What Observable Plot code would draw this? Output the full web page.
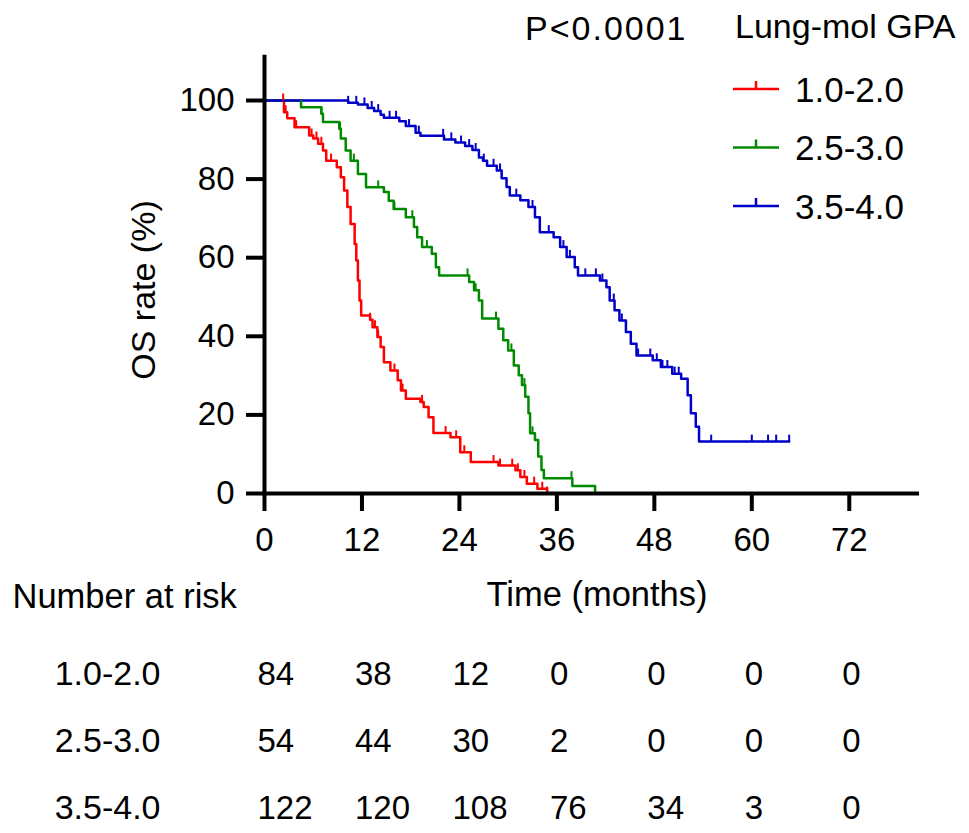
<!DOCTYPE html>
<html>
<head>
<meta charset="utf-8">
<script src="https://cdn.jsdelivr.net/npm/d3@7"></script>
<script src="https://cdn.jsdelivr.net/npm/@observablehq/plot@0.6"></script>
<style>
  body { margin: 0; background: #fff; }
  #chart { position: relative; width: 969px; height: 833px; font-family: "Liberation Sans", Arial, sans-serif; }
  #chart svg { display: block; }
  #overlay { position: absolute; left: 0; top: 0; pointer-events: none; }
</style>
</head>
<body>
<div id="chart"></div>
<script>
// groups and colours
const groups = ["1.0-2.0", "2.5-3.0", "3.5-4.0"];
const colors = ["#ff0000", "#008a00", "#0000c8"];

// Kaplan-Meier steps [time (months), OS rate (%)]
const km1 = [[0,100],[2.4,97.0],[2.8,95.5],[3.7,93.2],[5.5,91.1],[6.0,90.3],[6.6,89.0],[7.2,87.3],[7.6,84.7],
  [8.9,83.0],[9.4,80.5],[9.8,77.1],[10.2,72.9],[10.6,68.6],[11.1,63.5],[11.3,59.3],[11.5,54.2],[11.7,49.1],
  [11.9,45.3],[13.0,44.2],[13.3,42.3],[13.9,39.8],[14.3,37.3],[14.7,33.4],[15.5,31.3],[16.4,28.8],[16.8,26.2],
  [17.4,24.1],[19.2,23.3],[19.6,22.0],[20.2,19.4],[20.8,15.4],[22.9,14.3],[24.1,10.5],[25.4,8.0],[28.8,7.1],
  [30.9,5.9],[31.5,4.2],[32.3,2.5],[33.6,1.2],[34.8,0]];
const km2 = [[0,100],[4.5,98.3],[7.0,96.6],[7.2,94.5],[9.2,92.8],[9.4,90.3],[10.0,87.3],[10.6,84.7],[11.5,81.3],
  [12.5,77.9],[14.7,76.7],[15.3,74.5],[15.9,72.4],[17.4,70.3],[18.4,67.8],[18.8,65.2],[19.4,62.7],[20.6,61.0],
  [21.1,57.6],[21.5,55.5],[25.2,53.8],[25.8,51.7],[26.4,49.1],[26.8,44.5],[28.8,41.9],[29.4,39.0],[30.0,36.4],
  [30.7,32.6],[31.3,30.1],[31.7,27.6],[32.1,24.6],[32.5,20.4],[32.7,15.3],[33.3,13.6],[33.7,9.4],[34.1,6.0],
  [34.4,3.9],[37.9,1.9],[40.7,0]];
const km3 = [[0,100],[10.3,99.4],[11.5,99.0],[12.7,98.1],[13.5,97.3],[14.3,96.4],[14.7,95.6],[16.6,94.7],[17.4,93.5],
  [18.6,91.8],[19.2,91.0],[22.1,90.1],[23.5,89.3],[24.7,88.4],[25.6,87.4],[26.4,85.5],[26.9,84.7],[27.4,83.4],
  [28.6,82.2],[29.2,80.2],[29.8,78.0],[30.2,75.8],[31.5,74.6],[32.5,72.9],[33.3,70.3],[33.9,66.5],[35.6,65.2],
  [36.4,62.7],[37.2,60.2],[38.2,57.6],[38.6,55.5],[41.3,54.2],[42.1,52.5],[42.5,49.1],[43.1,46.6],[43.7,44.0],
  [44.5,41.1],[45.1,38.1],[45.8,35.1],[47.8,33.9],[48.8,32.2],[50.2,30.5],[51.3,29.2],[52.1,25.0],[52.5,20.4],
  [53.1,17.0],[53.5,13.2],[64.6,13.2]];

// censored times (tick marks)
const censor1 = [2.3, 2.6, 3.9, 5.8, 6.4, 7.0, 8.2, 13.0, 13.6, 14.0, 16.0, 17.0, 19.4, 22.3, 23.6, 24.6,
  28.2, 29.0, 30.5, 31.2, 32.0, 33.2, 34.2, 34.8];
const censor2 = [4.5, 7.0, 9.3, 11.0, 14.0, 16.0, 18.2, 20.0, 25.0, 26.0, 28.5, 30.4, 32.0, 33.0, 37.8, 40.7];
const censor3 = [10.3, 11.3, 12.3, 13.2, 14.0, 15.4, 16.2, 17.8, 19.0, 22.0, 23.0, 24.2, 25.2, 26.0, 27.0,
  28.2, 29.0, 31.0, 33.0, 35.0, 36.8, 37.6, 39.5, 40.8, 41.6, 43.0, 44.0, 46.0, 47.5, 48.3, 49.0, 49.6,
  50.5, 51.0, 55.0, 60.0, 62.0, 63.0, 64.6];

// number at risk
const riskTimes = [0, 12, 24, 36, 48, 60, 72];
const risk1 = [84, 38, 12, 0, 0, 0, 0];
const risk2 = [54, 44, 30, 2, 0, 0, 0];
const risk3 = [122, 120, 108, 76, 34, 3, 0];

const xTicks = [0, 12, 24, 36, 48, 60, 72];
const yTicks = [0, 20, 40, 60, 80, 100];

const font = '"Liberation Sans", Arial, sans-serif';
const kms = [km1, km2, km3];

const curves = kms.flatMap((pts, i) => pts.map(([t, s]) => ({group: groups[i], t, s})));

function survAt(pts, t) {
  let s = pts[0][1];
  for (const [ti, si] of pts) if (ti <= t) s = si;
  return s;
}
const censors = [censor1, censor2, censor3].flatMap((ts, i) =>
  ts.map(t => ({group: groups[i], t, s: survAt(kms[i], t)})));

const riskRows = [risk1, risk2, risk3].flatMap((ns, i) =>
  ns.map((n, j) => ({group: groups[i], t: riskTimes[j], n})));

// small vertical tick used for censored observations
const censorTick = {draw(ctx) { ctx.moveTo(0, 0); ctx.lineTo(0, -7); }};

const main = Plot.plot({
  width: 969,
  height: 560,
  marginLeft: 264,
  marginRight: 52,
  marginTop: 60.7,
  marginBottom: 67,
  style: {fontFamily: font, fontSize: "33px", background: "white", color: "black"},
  x: {domain: [0, 80.4]},
  y: {domain: [0, 110]},
  color: {domain: groups, range: colors},
  marks: [
    Plot.line(curves, {x: "t", y: "s", z: "group", stroke: "group", curve: "step-after", strokeWidth: 2.5}),
    Plot.dot(censors, {x: "t", y: "s", stroke: "group", fill: "none", symbol: censorTick, strokeWidth: 2}),
    Plot.ruleY([0], {x1: 0, x2: 80.4, strokeWidth: 4, strokeLinecap: "square"}),
    Plot.ruleX([0], {y1: 0, y2: 111, strokeWidth: 4, strokeLinecap: "square"}),
    Plot.axisX({ticks: xTicks, tickSize: 18, tickPadding: 16, strokeWidth: 4, fontSize: 33, label: null}),
    Plot.axisY({ticks: yTicks, tickSize: 18, tickPadding: 12, strokeWidth: 4, fontSize: 33, label: null})
  ]
});

const table = Plot.plot({
  width: 969,
  height: 273,
  marginLeft: 264,
  marginRight: 52,
  marginTop: 0,
  marginBottom: 0,
  style: {fontFamily: font, fontSize: "33px", background: "white", color: "black"},
  x: {domain: [0, 80.4], axis: null},
  y: {type: "point", domain: groups, range: [113, 248], padding: 0},
  marks: [
    Plot.axisY({tickSize: 0, tickPadding: 104, fontSize: 34, label: null}),
    Plot.text(riskRows, {x: "t", y: "group", text: d => String(d.n), textAnchor: "start", dx: -7, fontSize: 33}),
    Plot.text(["Number at risk"], {text: d => d, frameAnchor: "top-left", dx: -252, dy: 47,
      textAnchor: "start", lineAnchor: "bottom", fontSize: 34.5}),
    Plot.text(["Time (months)"], {text: d => d, frameAnchor: "top", dx: 6, dy: 45,
      lineAnchor: "bottom", fontSize: 34.5})
  ]
});

const chart = document.getElementById("chart");
chart.append(main);
chart.append(table);

// y label, P value and legend on top of the main plot
const overlay = d3.select("#chart").append("svg")
  .attr("id", "overlay")
  .attr("width", 969)
  .attr("height", 560)
  .style("font-family", font)
  .style("font-size", "34px");

overlay.append("text")
  .attr("transform", "translate(155,290) rotate(-90)")
  .attr("text-anchor", "middle")
  .text("OS rate (%)");

overlay.append("text")
  .attr("x", 525).attr("y", 40)
  .attr("letter-spacing", 2)
  .text("P<0.0001");

overlay.append("text")
  .attr("x", 735).attr("y", 38)
  .text("Lung-mol GPA");

const items = overlay.selectAll("g.item")
  .data(groups)
  .join("g")
  .attr("class", "item")
  .attr("transform", (d, i) => `translate(733,${89 + i * 58.5})`);

items.append("line")
  .attr("x1", 0).attr("x2", 46)
  .attr("stroke", (d, i) => colors[i])
  .attr("stroke-width", 2.5);

items.append("line")
  .attr("x1", 23).attr("x2", 23).attr("y1", 0).attr("y2", -8)
  .attr("stroke", (d, i) => colors[i])
  .attr("stroke-width", 2.5);

items.append("text")
  .attr("x", 62).attr("y", 12.5)
  .style("font-size", "35px")
  .text(d => d);
</script>
</body>
</html>
